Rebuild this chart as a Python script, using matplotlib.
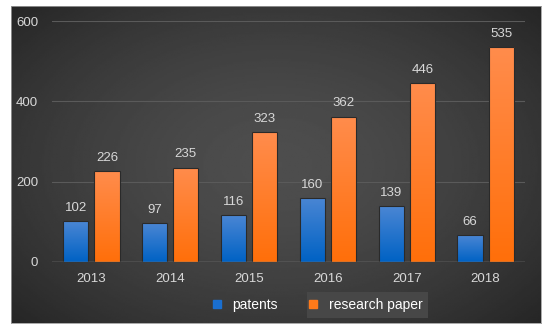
import matplotlib
matplotlib.use("Agg")
import matplotlib.pyplot as plt
import numpy as np
from matplotlib.lines import Line2D
from matplotlib.patches import Rectangle
from matplotlib.colors import LinearSegmentedColormap

years = ["2013", "2014", "2015", "2016", "2017", "2018"]
patents = [102, 97, 116, 160, 139, 66]
research = [226, 235, 323, 362, 446, 535]

plt.rcParams["font.family"] = ["Liberation Sans", "DejaVu Sans"]
TXT = "#d8d8d8"

fig = plt.figure(figsize=(5.5, 3.31), dpi=100)
fig.patch.set_facecolor("white")

# dark panel with soft radial gradient
bg = fig.add_axes([11 / 550, 8 / 331, 530 / 550, 317 / 331])
yy, xx = np.mgrid[-1:1:200j, -1:1:300j]
rr = np.sqrt((xx / 1.15) ** 2 + (yy / 1.25) ** 2)
shade = np.clip(0.305 - 0.12 * rr ** 1.6, 0.14, 0.31)
bg.imshow(shade, cmap="gray", vmin=0, vmax=1, aspect="auto", extent=(0, 1, 0, 1))
for s in bg.spines.values():
    s.set_color("#9a9a9a")
    s.set_linewidth(0.6)
bg.set_xticks([])
bg.set_yticks([])

ax = fig.add_axes([52 / 550, 69 / 331, 473 / 550, 241 / 331])
ax.set_facecolor("none")
x = np.arange(len(years))
w = 0.32
gap = 0.075
b1 = ax.bar(x - (w + gap) / 2, patents, w, facecolor="none", edgecolor="#2a2a2a", lw=0.8, zorder=3)
b2 = ax.bar(x + (w + gap) / 2, research, w, facecolor="none", edgecolor="#2a2a2a", lw=0.8, zorder=3)

grad = np.linspace(0, 1, 100).reshape(-1, 1)
blue_cm = LinearSegmentedColormap.from_list("b", ["#0062c4", "#4a86d4"])
orange_cm = LinearSegmentedColormap.from_list("o", ["#ff6f0a", "#ff8c4c"])
for bars, cm in ((b1, blue_cm), (b2, orange_cm)):
    for p in bars:
        x0, y0 = p.get_x(), p.get_y()
        im = ax.imshow(grad, cmap=cm, aspect="auto", origin="lower",
                       extent=(x0, x0 + p.get_width(), y0, y0 + p.get_height()), zorder=2)
        im.set_clip_path(p)

for bars, vals in ((b1, patents), (b2, research)):
    for p, v in zip(bars, vals):
        ax.text(p.get_x() + p.get_width() / 2, v + 18, str(v), ha="center", va="bottom",
                color=TXT, fontsize=9.5, zorder=4)

ax.set_xlim(-0.5, len(years) - 0.5)
ax.set_ylim(0, 600)
ax.set_yticks([0, 200, 400, 600])
ax.set_xticks(x)
ax.set_xticklabels(years)
ax.tick_params(colors=TXT, labelsize=9.5, length=0)
ax.tick_params(axis="x", pad=8)
ax.tick_params(axis="y", pad=10)
ax.grid(axis="y", color="#5a5a5a", lw=0.8, zorder=0)
ax.set_axisbelow(True)
for s in ax.spines.values():
    s.set_visible(False)
ax.axhline(0, color="#8a8a8a", lw=1.0, zorder=3)

# highlighted legend entry box
fig.patches.append(Rectangle((307 / 550, 13 / 331), 121 / 550, 26 / 331, transform=fig.transFigure,
                             facecolor="#474747", edgecolor="none", zorder=1))

handles = [Line2D([], [], marker="s", ls="none", color="#1a6fd0", markersize=5.5),
           Line2D([], [], marker="s", ls="none", color="#ff7a1a", markersize=5.5)]
leg = fig.legend(handles, ["patents", "research paper"], ncol=2, loc="center",
                 bbox_to_anchor=(316 / 550, 26 / 331), frameon=False, fontsize=10,
                 handletextpad=0.6, columnspacing=2.1, handlelength=1.0, labelcolor="white")

fig.savefig("out.png", dpi=100)
